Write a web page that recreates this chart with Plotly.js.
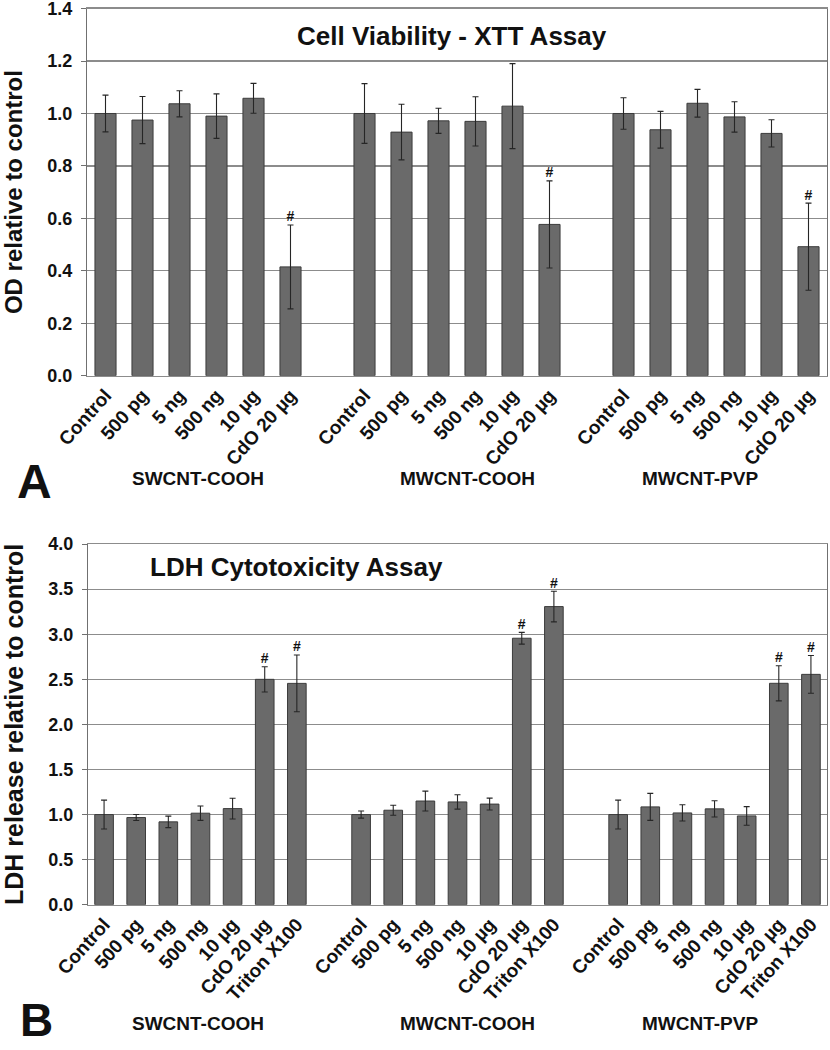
<!DOCTYPE html>
<html>
<head>
<meta charset="utf-8">
<script src="https://cdn.plot.ly/plotly-3.0.1.min.js"></script>
<style>html,body{margin:0;padding:0;background:#fff;}#chart{width:830px;height:1050px;}</style>
</head>
<body>
<div id="chart"></div>
<script>
// ---------- DATA ----------
const groups = ["SWCNT-COOH", "MWCNT-COOH", "MWCNT-PVP"];

// Panel A: XTT cell viability
const xttCategories = ["Control", "500 pg", "5 ng", "500 ng", "10 µg", "CdO 20 µg"];
const xttSW      = [1.000, 0.975, 1.037, 0.990, 1.058, 0.415];
const xttSWErr   = [0.070, 0.090, 0.050, 0.085, 0.057, 0.160];
const xttMW      = [1.000, 0.929, 0.972, 0.970, 1.028, 0.577];
const xttMWErr   = [0.114, 0.106, 0.048, 0.094, 0.162, 0.166];
const xttPVP     = [1.000, 0.938, 1.039, 0.987, 0.924, 0.492];
const xttPVPErr  = [0.060, 0.070, 0.053, 0.058, 0.052, 0.166];
const xttSig     = [false, false, false, false, false, true];
const xttTicks   = [0.0, 0.2, 0.4, 0.6, 0.8, 1.0, 1.2, 1.4];

// Panel B: LDH cytotoxicity
const ldhCategories = ["Control", "500 pg", "5 ng", "500 ng", "10 µg", "CdO 20 µg", "Triton X100"];
const ldhSW      = [1.000, 0.967, 0.919, 1.015, 1.066, 2.500, 2.455];
const ldhSWErr   = [0.160, 0.033, 0.064, 0.080, 0.115, 0.140, 0.315];
const ldhMW      = [1.000, 1.048, 1.150, 1.140, 1.116, 2.956, 3.307];
const ldhMWErr   = [0.040, 0.055, 0.110, 0.080, 0.066, 0.065, 0.170];
const ldhPVP     = [1.000, 1.085, 1.018, 1.063, 0.985, 2.456, 2.555];
const ldhPVPErr  = [0.160, 0.150, 0.090, 0.090, 0.103, 0.195, 0.210];
const ldhSig     = [false, false, false, false, false, true, true];
const ldhTicks   = [0.0, 0.5, 1.0, 1.5, 2.0, 2.5, 3.0, 3.5, 4.0];

const titleA = "Cell Viability - XTT Assay";
const titleB = "LDH Cytotoxicity Assay";
const yTitleA = "OD relative to control";
const yTitleB = "LDH release relative to control";

// ---------- BUILD ----------
const FONT = "Liberation Sans, Arial, sans-serif";
const NARROW = "Liberation Sans Narrow, Arial Narrow, Liberation Sans, Arial, sans-serif";
const BAR = "#6a6a6a", BAR_LINE = "#3c3c3c", GRID = "#8c8c8c";

function buildPanel(cats, series, errs, sig, xa, ya, width) {
  const n = cats.length;
  const traces = [];
  const tickvals = [], ticktext = [];
  const hx = [], hy = [];
  series.forEach((vals, g) => {
    const xs = cats.map((c, i) => g * (n + 1) + i);
    xs.forEach((x, i) => { tickvals.push(x); ticktext.push(cats[i]);
      if (sig[i]) { hx.push(x); hy.push(vals[i] + errs[g][i]); } });
    traces.push({
      type: "bar", x: xs, y: vals, xaxis: xa, yaxis: ya, width: width,
      marker: {color: BAR, line: {color: BAR_LINE, width: 1}},
      error_y: {type: "data", array: errs[g], visible: true, color: "#262626", thickness: 1.1, width: 3},
      showlegend: false, hoverinfo: "skip"
    });
  });
  traces.push({
    type: "scatter", mode: "text", x: hx, y: hy, text: hx.map(() => "#"),
    textposition: "top center", xaxis: xa, yaxis: ya,
    textfont: {family: FONT, size: 14, color: "#111", weight: "bold"},
    showlegend: false, hoverinfo: "skip", cliponaxis: false
  });
  return {traces, tickvals, ticktext, range: [-0.5, groups.length * (n + 1) - 1.5]};
}

const pA = buildPanel(xttCategories, [xttSW, xttMW, xttPVP], [xttSWErr, xttMWErr, xttPVPErr], xttSig, "x", "y", 0.57);
const pB = buildPanel(ldhCategories, [ldhSW, ldhMW, ldhPVP], [ldhSWErr, ldhMWErr, ldhPVPErr], ldhSig, "x2", "y2", 0.58);

const W = 830, H = 1050;
const px = v => v / W, py = v => 1 - v / H;

function xAxis(p, anchor, domain) {
  return {
    domain: domain, anchor: anchor, range: p.range, tickmode: "array",
    tickvals: p.tickvals, ticktext: p.ticktext, tickangle: -48,
    tickfont: {family: FONT, size: 19, color: "#111", weight: "bold"},
    showline: true, linecolor: GRID, linewidth: 1.2, mirror: true,
    ticks: "", showgrid: false, zeroline: false, fixedrange: true
  };
}
function yAxis(ticks, title, tsize, anchor, domain) {
  const top = ticks[ticks.length - 1];
  return {
    domain: domain, anchor: anchor, range: [ticks[0], top * 1.0003],
    tickmode: "array", tickvals: ticks, ticktext: ticks.map(t => t.toFixed(1)),
    tickfont: {family: FONT, size: 18, color: "#111", weight: "bold"},
    ticklabeloverflow: "allow",
    showline: true, linecolor: "#707070", linewidth: 1.2, mirror: true,
    ticks: "outside", ticklen: 5, tickcolor: "#707070", ticklabelstandoff: 5,
    showgrid: true, gridcolor: GRID, gridwidth: 1.2, zeroline: false,
    title: {text: title, font: {family: FONT, size: tsize, color: "#111", weight: "bold"}, standoff: 18},
    fixedrange: true
  };
}

const annFont = (s, f) => ({family: f || FONT, size: s, color: "#111", weight: "bold"});
const ann = (text, x, y, font) => ({text, x: px(x), y: py(y), xref: "paper", yref: "paper",
  xanchor: "center", yanchor: "middle", showarrow: false, font});
const annotations = [
  ann(titleA, 452, 36, annFont(26)),
  ann(titleB, 296, 567, annFont(26)),
  ann("A", 34, 481, annFont(48)),
  ann("B", 36, 1020, annFont(46))
];
const groupX = [198, 467, 700];
groups.forEach((g, i) => {
  annotations.push(ann(g, groupX[i], 478, annFont(19, NARROW)));
  annotations.push(ann(g, groupX[i], 1023, annFont(19, NARROW)));
});

const layout = {
  width: W, height: H, margin: {l: 0, r: 0, t: 0, b: 0},
  paper_bgcolor: "#fff", plot_bgcolor: "#fff", showlegend: false, bargap: 0,
  xaxis: xAxis(pA, "y", [px(87), px(827)]),
  yaxis: yAxis(xttTicks, yTitleA, 24, "x", [py(375.7), py(8.5)]),
  xaxis2: xAxis(pB, "y2", [px(88), px(827)]),
  yaxis2: yAxis(ldhTicks, yTitleB, 25, "x2", [py(904.7), py(544)]),
  annotations: annotations,
  font: {family: FONT}
};

Plotly.newPlot("chart", pA.traces.concat(pB.traces), layout, {displayModeBar: false, staticPlot: true});
</script>
</body>
</html>
